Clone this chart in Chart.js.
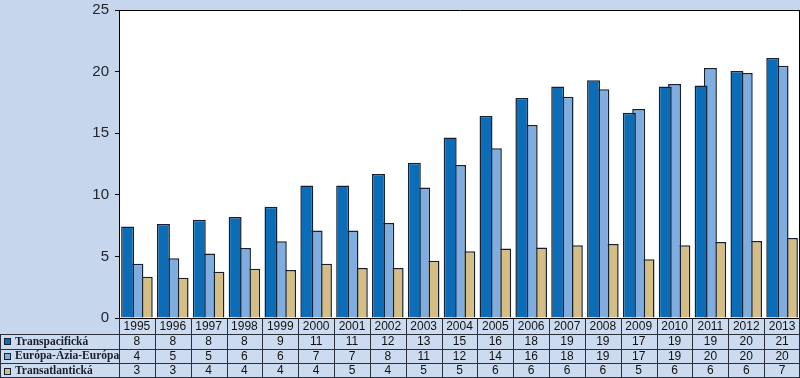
<!DOCTYPE html>
<html><head><meta charset="utf-8">
<script src="https://cdn.jsdelivr.net/npm/chart.js@4"></script>
<style>html,body{margin:0;padding:0;background:#c6d6ed;overflow:hidden}</style>
</head><body>
<canvas id="c" width="800" height="378"></canvas>
<script>
const years = ['1995','1996','1997','1998','1999','2000','2001','2002','2003','2004','2005','2006','2007','2008','2009','2010','2011','2012','2013'];
const transpacific = [7.43, 7.63, 7.98, 8.2, 9.03, 10.76, 10.76, 11.69, 12.6, 14.66, 16.4, 17.86, 18.8, 19.29, 16.66, 18.8, 18.88, 20.05, 21.1];
const europeAsia = [4.41, 4.84, 5.24, 5.68, 6.22, 7.11, 7.11, 7.71, 10.6, 12.42, 13.77, 15.67, 17.96, 18.56, 16.96, 18.99, 20.29, 19.89, 20.48];
const transatlantic = [3.35, 3.27, 3.76, 4.0, 3.9, 4.41, 4.06, 4.06, 4.65, 5.41, 5.65, 5.73, 5.9, 6.0, 4.76, 5.9, 6.17, 6.25, 6.49];
const tableTranspacific = [8,8,8,8,9,11,11,12,13,15,16,18,19,19,17,19,19,20,21];
const tableEuropeAsia = [4,5,5,6,6,7,7,8,11,12,14,16,18,19,17,19,20,20,20];
const tableTransatlantic = [3,3,4,4,4,4,5,4,5,5,6,6,6,6,5,6,6,6,7];
const seriesNames = ['Transpacifická','Európa-Ázia-Európa','Transatlantická'];
const yTicks = [0,5,10,15,20,25];

const colors = ['#0b6db7','#80ade0','#d4be86'];
const edgeColor = '#17202e';
const pageBg = '#c6d6ed';
const cellBg = '#cddbf0';
const lineColor = '#2b2f3a';

const tablePlugin = {
  id: 'tablePlugin',
  beforeDraw(chart) {
    const {ctx, chartArea: a} = chart;
    ctx.save();
    ctx.fillStyle = pageBg;
    ctx.fillRect(0, 0, chart.width, chart.height);
    ctx.fillStyle = '#ffffff';
    ctx.fillRect(a.left, a.top, a.right - a.left, a.bottom - a.top);
    ctx.restore();
  },
  afterDraw(chart) {
    const {ctx, chartArea: a} = chart;
    const xs = chart.scales.x;
    const n = years.length;
    const step = xs.getPixelForValue(1) - xs.getPixelForValue(0);
    const edges = [];
    for (let i = 0; i < n; i++) edges.push(xs.getPixelForValue(i) - step / 2);
    edges.push(xs.getPixelForValue(n - 1) + step / 2);
    const H = chart.height;
    const top = a.bottom;
    const r0 = top + 16;
    const rh = (H - r0) / 3;
    const rows = [r0, r0 + rh, r0 + 2 * rh, H];
    const right = Math.min(edges[n], chart.width);
    ctx.save();
    ctx.strokeStyle = '#000';
    ctx.lineWidth = 1;
    ctx.beginPath();
    ctx.moveTo(a.left, Math.round(a.top) + 0.5);
    ctx.lineTo(a.right, Math.round(a.top) + 0.5);
    ctx.moveTo(Math.round(a.right) - 0.5, a.top);
    ctx.lineTo(Math.round(a.right) - 0.5, a.bottom);
    ctx.stroke();
    ctx.fillStyle = cellBg;
    ctx.fillRect(a.left, top + 1, right - a.left, r0 - top);
    ctx.fillRect(0, r0, right, H - r0);
    ctx.strokeStyle = lineColor;
    ctx.beginPath();
    for (let k = 0; k < 3; k++) {
      const y = Math.round(rows[k]) + 0.5;
      ctx.moveTo(0, y); ctx.lineTo(right, y);
    }
    ctx.moveTo(0, H - 0.5); ctx.lineTo(right, H - 0.5);
    for (let i = 0; i <= n; i++) {
      const x = Math.min(Math.round(edges[i]) + 0.5, chart.width - 0.5);
      ctx.moveTo(x, top); ctx.lineTo(x, H);
    }
    ctx.moveTo(0.5, r0); ctx.lineTo(0.5, H);
    ctx.stroke();
    ctx.fillStyle = '#111';
    ctx.textAlign = 'center';
    ctx.textBaseline = 'middle';
    ctx.font = '12px "Liberation Sans", Arial, sans-serif';
    for (let i = 0; i < n; i++) {
      const cx = xs.getPixelForValue(i);
      ctx.fillText(years[i], cx, (top + r0) / 2 + 1);
      ctx.fillText(String(tableTranspacific[i]), cx, rows[0] + rh / 2 + 0.5);
      ctx.fillText(String(tableEuropeAsia[i]), cx, rows[1] + rh / 2 + 0.5);
      ctx.fillText(String(tableTransatlantic[i]), cx, rows[2] + rh / 2 + 0.5);
    }
    ctx.textAlign = 'left';
    ctx.font = 'bold 11.5px "Liberation Serif", "Times New Roman", serif';
    for (let k = 0; k < 3; k++) {
      const cy = rows[k] + rh / 2;
      ctx.fillStyle = colors[k];
      ctx.fillRect(4, Math.round(cy) - 3, 6, 6);
      ctx.strokeStyle = edgeColor;
      ctx.strokeRect(4.5, Math.round(cy) - 2.5, 6, 6);
      ctx.fillStyle = '#1a1d2a';
      ctx.fillText(seriesNames[k], 15, cy + 0.5);
    }
    ctx.restore();
  }
};

const ds = (label, data, color) => ({
  label, data,
  backgroundColor: color,
  borderColor: edgeColor,
  borderWidth: 1.5,
  categoryPercentage: 0.78,
  barPercentage: 1.39
});

new Chart(document.getElementById('c'), {
  type: 'bar',
  data: {
    labels: years,
    datasets: [
      ds(seriesNames[0], transpacific, colors[0]),
      ds(seriesNames[1], europeAsia, colors[1]),
      ds(seriesNames[2], transatlantic, colors[2])
    ]
  },
  options: {
    responsive: false,
    animation: false,
    devicePixelRatio: 1,
    layout: { padding: { top: 10, bottom: 60, left: 0, right: 0 } },
    plugins: { legend: { display: false }, tooltip: { enabled: false } },
    scales: {
      x: {
        ticks: { display: false },
        grid: { display: false, drawTicks: false },
        border: { display: true, color: '#000', width: 1 }
      },
      y: {
        min: 0, max: 25,
        ticks: {
          stepSize: 5,
          color: '#23242e',
          padding: 6,
          font: { family: '"Liberation Sans", Arial, sans-serif', size: 15 },
          callback: (v) => yTicks.includes(v) ? String(v) : ''
        },
        grid: { drawOnChartArea: false, drawTicks: true, tickLength: 4, color: '#000' },
        border: { display: true, color: '#000', width: 1 },
        afterFit(s) { s.width = 119; s.paddingTop = 0; s.paddingBottom = 0; }
      }
    }
  },
  plugins: [tablePlugin]
});
</script>
</body></html>
